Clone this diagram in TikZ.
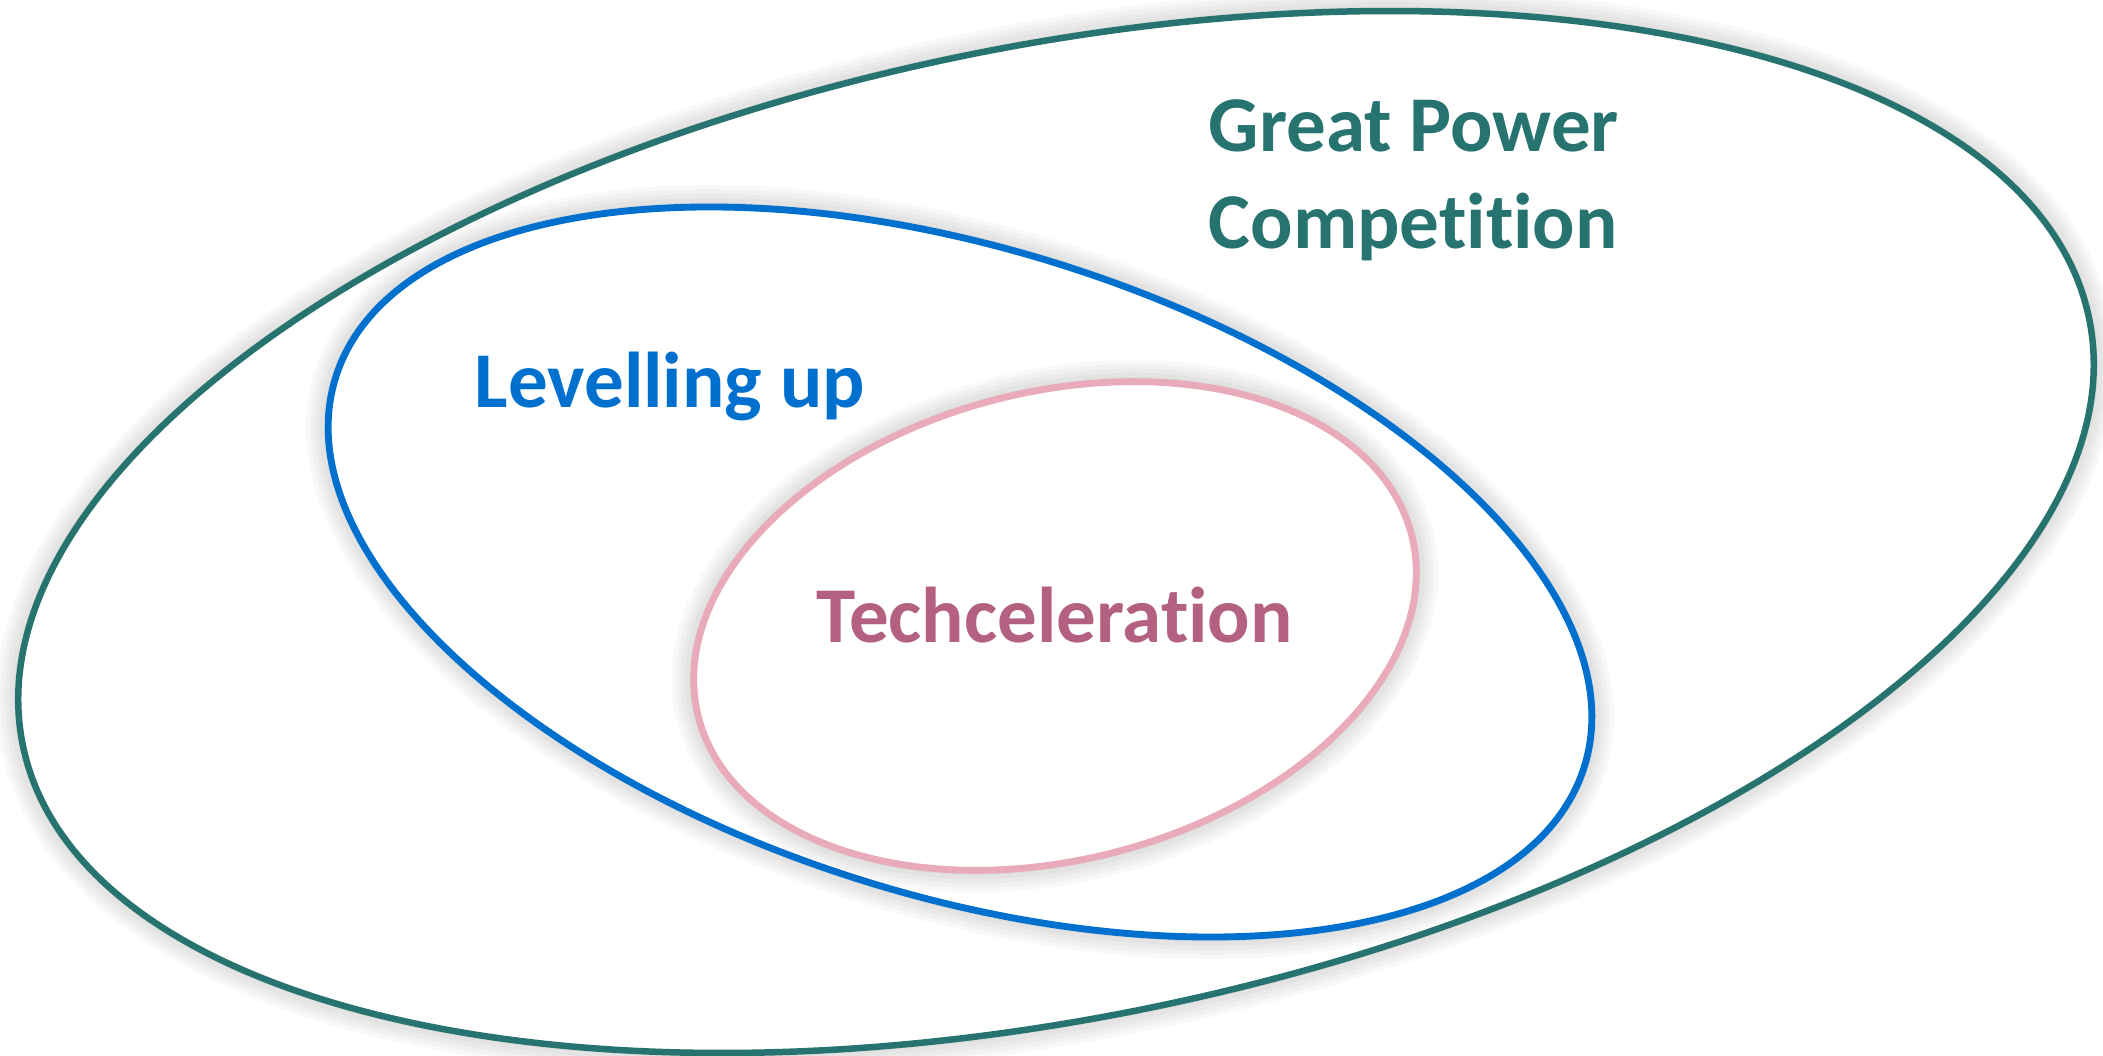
\documentclass[tikz,border=0pt]{standalone}
\usepackage{fontspec}
\setmainfont{Carlito}[Ligatures=NoCommon]
\usepackage{xcolor}
\usepackage{tikz}

\definecolor{gpteal}{RGB}{38,115,112}
\definecolor{lvlblue}{RGB}{0,112,206}
\definecolor{techpink}{RGB}{233,170,186}
\definecolor{techtext}{RGB}{180,96,128}

\tikzset{
	ring/.style={line width=1.85pt, fill=white},
	halo/.style={draw=black, opacity=0.028, line width=#1},
	tag/.style={font=\fontsize{22.5}{27}\selectfont\bfseries, anchor=base west, inner sep=0pt}
}

\begin{document}
\begin{tikzpicture}
				\useasboundingbox (0,0) rectangle (21.03,10.56);
				
				% each ring: grey halo first, then the white inside and its line
				\foreach \w in {2.5pt,5pt,7.5pt,10pt,12.5pt}
					\draw [halo=\w, rotate around={11.7:(10.56,5.24)}] (10.56,5.24) ellipse (10.55 and 4.85);
				\filldraw [ring, draw=gpteal, rotate around={11.7:(10.56,5.24)}] (10.56,5.24) ellipse (10.55 and 4.85);
				
				\foreach \w in {2.5pt,5pt,7.5pt,10pt,12.5pt}
					\draw [halo=\w, rotate around={-17.3:(9.60,4.84)}] (9.60,4.84) ellipse (6.54 and 3.235);
				\filldraw [ring, draw=lvlblue, line width=1.95pt, rotate around={-17.3:(9.60,4.84)}] (9.60,4.84) ellipse (6.54 and 3.235);
				
				\foreach \w in {2.5pt,5pt,7.5pt,10pt,12.5pt}
					\draw [halo=\w, rotate around={14.3:(10.55,4.30)}] (10.55,4.30) ellipse (3.68 and 2.34);
				\filldraw [ring, draw=techpink, line width=1.95pt, rotate around={14.3:(10.55,4.30)}] (10.55,4.30) ellipse (3.68 and 2.34);
				
				% % % % % % % % % % % % % % % % % % % % % % % % % %
				
				\node [tag, text=gpteal] (great) at (12.08,9.04) {Great Power};
				\node [tag, text=gpteal] (comp) at (12.08,8.07) {Competition};
				\node [tag, text=lvlblue] (level) at (4.74,6.48) {Levelling up};
				\node [tag, text=techtext] (tech) at (8.16,4.13) {Techceleration};
				\end{tikzpicture}
\end{document}
